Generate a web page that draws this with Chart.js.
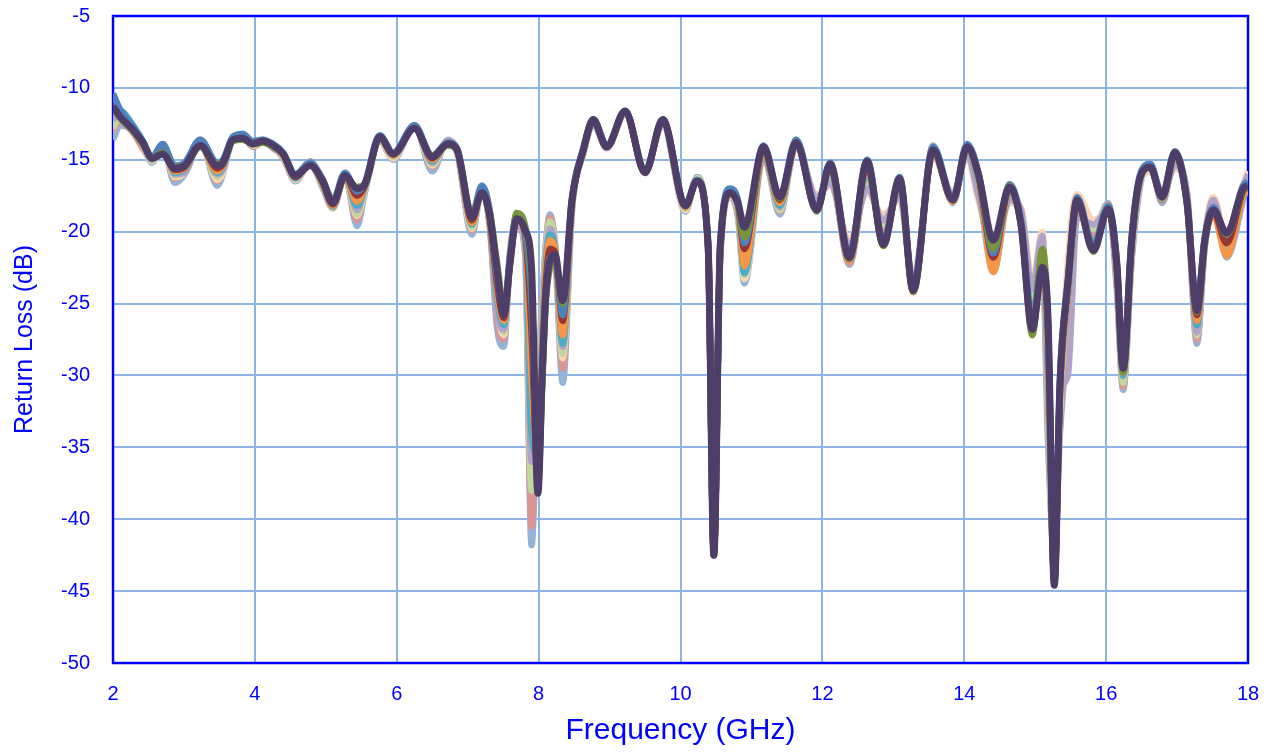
<!doctype html>
<html lang="en">
<head>
<meta charset="utf-8">
<title>Return Loss vs Frequency</title>
<script src="https://cdn.jsdelivr.net/npm/chart.js"></script>
<style>
  html, body { margin: 0; padding: 0; background: #fff; }
  #chart { display: block; }
</style>
</head>
<body>
<canvas id="chart" width="1270" height="753"></canvas>
<script>
// frequency points (GHz), shared by every trace
const freqGHz = [
  2.00, 2.10, 2.28, 2.42, 2.55, 2.70, 2.87, 3.01, 3.23, 3.47,
  3.55, 3.69, 3.83, 3.97, 4.11, 4.26, 4.40, 4.57, 4.78, 4.95,
  5.10, 5.27, 5.44, 5.55, 5.76, 5.95, 6.25, 6.50, 6.72, 6.85,
  7.06, 7.20, 7.31, 7.41, 7.51, 7.60, 7.69, 7.81, 7.90, 7.99,
  8.05, 8.10, 8.16, 8.23, 8.34, 8.47, 8.63, 8.77, 8.96, 9.22,
  9.50, 9.75, 10.07, 10.23, 10.39, 10.47, 10.56, 10.70, 10.81, 10.90,
  11.17, 11.40, 11.63, 11.92, 12.11, 12.38, 12.63, 12.86, 13.09, 13.28,
  13.56, 13.84, 14.04, 14.20, 14.41, 14.64, 14.80, 14.96, 15.10, 15.18,
  15.27, 15.35, 15.46, 15.59, 15.82, 16.03, 16.15, 16.24, 16.36, 16.48,
  16.62, 16.79, 16.97, 17.14, 17.28, 17.39, 17.51, 17.70, 17.93, 18.00
];

// return loss (dB) per trace
const traceMain = [
  -11.3, -12.0, -12.9, -13.8, -14.9, -14.6, -15.6, -15.4, -14.0, -15.4,
  -15.2, -13.6, -13.5, -13.9, -13.7, -14.0, -14.6, -16.1, -15.4, -16.4,
  -18.0, -16.1, -17.0, -16.7, -13.4, -14.6, -12.8, -14.8, -13.9, -14.3,
  -19.0, -17.3, -18.8, -22.5, -25.8, -22.0, -19.1, -19.9, -22.5, -38.2,
  -30.0, -24.5, -22.0, -21.6, -24.8, -17.8, -14.3, -12.2, -14.1, -11.6,
  -15.9, -12.2, -18.2, -16.5, -21.0, -42.5, -21.0, -17.3, -18.0, -19.7,
  -14.1, -17.6, -13.8, -18.5, -15.3, -21.8, -15.1, -20.9, -16.3, -24.1,
  -14.3, -17.8, -14.1, -16.0, -20.6, -16.9, -19.5, -26.8, -22.5, -25.9,
  -44.6, -30.5, -23.6, -17.8, -21.3, -18.4, -22.2, -29.5, -20.6, -16.2,
  -15.5, -17.6, -14.5, -18.0, -25.5, -20.6, -18.5, -20.1, -17.0, -16.8
];
const trace1 = [
  -13.6, -12.6, -13.0, -14.0, -15.2, -14.0, -16.6, -16.0, -13.6, -16.8,
  -16.0, -13.4, -13.2, -14.0, -13.6, -14.2, -14.8, -16.5, -15.2, -16.9,
  -18.4, -16.0, -19.6, -17.3, -13.6, -15.0, -12.6, -15.8, -13.6, -14.5,
  -20.2, -17.0, -19.3, -26.5, -28.0, -21.5, -19.5, -21.5, -41.8, -30.0,
  -25.0, -21.0, -18.8, -21.0, -30.5, -18.5, -14.6, -12.5, -14.0, -11.8,
  -15.6, -12.6, -18.6, -16.2, -21.5, -42.0, -21.5, -17.6, -19.0, -23.6,
  -14.6, -18.8, -13.6, -18.0, -16.0, -22.3, -16.2, -19.8, -17.0, -24.0,
  -14.0, -18.0, -14.4, -17.0, -22.8, -17.4, -18.8, -25.0, -20.8, -34.5,
  -42.0, -34.0, -27.0, -18.4, -20.0, -18.0, -24.0, -31.0, -22.0, -16.8,
  -15.2, -18.0, -15.0, -17.6, -27.8, -21.0, -18.0, -21.8, -17.8, -16.4
];
const trace2 = [
  -13.0, -12.3, -13.1, -14.2, -15.0, -14.2, -16.3, -15.8, -13.8, -16.5,
  -15.8, -13.5, -13.3, -14.1, -13.8, -14.1, -14.9, -16.4, -15.3, -16.8,
  -18.3, -16.2, -19.2, -17.1, -13.7, -14.9, -12.7, -15.5, -13.7, -14.4,
  -19.9, -16.9, -19.0, -26.0, -27.5, -21.2, -19.3, -21.2, -40.5, -31.0,
  -25.5, -21.2, -19.0, -20.8, -29.5, -18.4, -14.5, -12.4, -14.1, -11.7,
  -15.7, -12.5, -18.5, -16.3, -21.3, -42.2, -21.4, -17.5, -18.8, -23.2,
  -14.5, -18.6, -13.7, -18.1, -15.8, -22.2, -16.0, -20.0, -16.8, -24.2,
  -14.1, -17.9, -14.3, -16.8, -22.5, -17.3, -19.0, -25.5, -21.0, -33.0,
  -43.0, -33.0, -26.5, -18.3, -20.3, -18.1, -23.5, -30.8, -21.8, -16.6,
  -15.3, -17.9, -14.9, -17.7, -27.5, -21.0, -18.2, -21.5, -17.6, -16.5
];
const trace3 = [
  -12.8, -12.0, -12.8, -13.9, -15.1, -14.3, -16.1, -15.7, -13.9, -16.2,
  -15.6, -13.6, -13.4, -14.0, -13.8, -14.1, -14.8, -16.3, -15.3, -16.7,
  -18.2, -16.2, -18.8, -17.0, -13.6, -14.8, -12.7, -15.3, -13.8, -14.4,
  -19.7, -17.0, -19.2, -25.0, -27.0, -21.5, -19.0, -21.0, -38.0, -33.0,
  -26.0, -21.5, -19.3, -20.8, -28.5, -18.3, -14.5, -12.4, -14.0, -11.7,
  -15.6, -12.5, -18.4, -16.3, -21.2, -42.3, -21.6, -17.2, -18.6, -23.0,
  -14.7, -18.5, -13.9, -17.8, -16.3, -21.5, -16.6, -19.5, -17.2, -23.8,
  -14.4, -17.7, -14.5, -17.2, -22.0, -17.6, -18.6, -24.5, -20.5, -32.0,
  -43.5, -32.0, -25.5, -18.6, -19.8, -18.2, -23.0, -30.5, -21.5, -16.5,
  -15.4, -17.7, -15.2, -17.5, -27.2, -20.8, -18.0, -21.0, -17.3, -16.2
];
const trace4 = [
  -12.2, -11.8, -12.7, -13.8, -15.0, -14.0, -16.0, -15.9, -13.7, -16.0,
  -15.7, -13.5, -13.2, -13.9, -13.7, -14.2, -14.7, -16.2, -15.1, -16.6,
  -18.1, -16.0, -18.5, -16.9, -13.5, -14.7, -12.6, -15.2, -13.7, -14.3,
  -19.5, -16.8, -19.6, -25.5, -26.8, -21.8, -19.2, -20.8, -36.0, -34.0,
  -27.0, -22.0, -19.8, -21.0, -28.0, -18.2, -14.4, -12.5, -14.2, -11.8,
  -15.8, -12.4, -18.3, -16.4, -21.4, -42.0, -21.8, -17.4, -18.4, -22.6,
  -14.8, -18.3, -14.0, -17.6, -16.6, -21.0, -17.0, -19.2, -17.5, -23.5,
  -14.6, -17.5, -14.6, -17.5, -21.5, -17.8, -18.5, -24.0, -20.3, -31.0,
  -43.0, -31.5, -30.0, -19.0, -19.5, -18.5, -22.5, -30.0, -21.2, -16.4,
  -15.6, -17.5, -15.4, -17.3, -27.0, -20.6, -17.8, -20.8, -17.0, -16.0
];
const trace5 = [
  -11.8, -11.6, -12.6, -13.7, -14.9, -14.1, -15.9, -15.7, -13.9, -15.9,
  -15.5, -13.6, -13.3, -13.9, -13.8, -14.1, -14.7, -16.3, -15.2, -16.7,
  -18.3, -16.1, -18.2, -16.9, -13.5, -14.7, -12.7, -15.1, -13.8, -14.3,
  -19.5, -17.0, -19.4, -24.5, -26.5, -21.6, -19.0, -20.5, -34.0, -35.5,
  -28.0, -22.5, -20.2, -21.2, -27.8, -18.1, -14.4, -12.4, -14.1, -11.7,
  -15.8, -12.4, -18.3, -16.4, -21.2, -42.3, -21.5, -17.3, -18.3, -22.9,
  -14.5, -18.2, -13.9, -18.2, -15.7, -21.8, -15.8, -20.6, -16.7, -24.0,
  -14.5, -17.8, -14.3, -16.5, -22.5, -17.2, -19.2, -26.0, -21.5, -29.0,
  -43.8, -31.0, -24.5, -18.2, -20.8, -18.3, -22.8, -30.0, -21.0, -16.4,
  -15.5, -17.8, -14.8, -17.8, -26.5, -21.0, -18.6, -21.6, -17.6, -17.2
];
const trace6 = [
  -11.6, -11.8, -12.8, -13.8, -14.9, -14.3, -15.8, -15.6, -14.0, -15.8,
  -15.4, -13.6, -13.4, -13.9, -13.8, -14.1, -14.7, -16.2, -15.3, -16.6,
  -18.2, -16.1, -17.9, -16.8, -13.5, -14.7, -12.7, -15.0, -13.8, -14.3,
  -19.4, -17.1, -19.2, -24.0, -26.2, -21.8, -19.2, -20.4, -30.0, -36.5,
  -29.0, -23.0, -20.6, -21.3, -27.2, -18.0, -14.4, -12.3, -14.1, -11.7,
  -15.9, -12.3, -18.3, -16.4, -21.1, -42.4, -21.3, -17.4, -18.2, -22.4,
  -14.4, -18.0, -13.9, -18.4, -15.5, -22.0, -15.5, -20.8, -16.5, -24.2,
  -14.4, -17.9, -14.2, -16.3, -22.8, -17.0, -19.4, -26.5, -22.0, -28.0,
  -44.0, -31.5, -24.2, -18.0, -21.0, -18.4, -22.6, -29.8, -20.8, -16.3,
  -15.5, -17.7, -14.7, -17.9, -26.2, -20.8, -18.8, -21.7, -17.5, -17.0
];
const trace7 = [
  -11.0, -11.9, -12.9, -13.8, -14.9, -14.4, -15.7, -15.5, -14.0, -15.6,
  -15.3, -13.6, -13.5, -13.9, -13.7, -14.0, -14.6, -16.2, -15.3, -16.5,
  -18.1, -16.1, -17.5, -16.8, -13.4, -14.6, -12.7, -14.9, -13.9, -14.3,
  -19.2, -17.2, -19.0, -23.5, -26.0, -21.9, -19.1, -20.2, -27.0, -37.5,
  -29.5, -23.8, -21.2, -21.4, -26.2, -17.9, -14.3, -12.3, -14.1, -11.6,
  -15.9, -12.3, -18.2, -16.5, -21.0, -42.5, -21.2, -17.3, -18.1, -21.2,
  -14.2, -17.8, -13.8, -18.5, -15.4, -21.9, -15.3, -20.9, -16.4, -24.1,
  -14.3, -17.8, -14.1, -16.1, -21.8, -16.9, -19.5, -26.8, -22.3, -27.0,
  -44.3, -30.8, -23.8, -17.9, -21.2, -18.4, -22.4, -29.6, -20.7, -16.2,
  -15.5, -17.6, -14.6, -18.0, -25.8, -20.7, -18.6, -20.8, -17.2, -16.9
];
const trace8 = [
  -10.4, -11.5, -12.7, -13.7, -14.8, -13.9, -15.4, -15.2, -13.6, -15.2,
  -15.0, -13.4, -13.2, -13.7, -13.6, -13.9, -14.5, -16.0, -15.2, -16.3,
  -17.8, -15.9, -17.2, -16.6, -13.3, -14.5, -12.6, -14.7, -13.8, -14.2,
  -18.8, -16.8, -18.5, -23.0, -25.5, -21.5, -18.8, -20.0, -25.0, -37.0,
  -30.5, -24.6, -21.8, -21.8, -25.8, -17.7, -14.2, -12.2, -14.0, -11.6,
  -15.8, -12.2, -18.1, -16.4, -20.8, -42.2, -21.0, -17.0, -17.8, -20.8,
  -14.0, -17.5, -13.6, -18.4, -15.2, -21.7, -15.0, -20.7, -16.2, -23.9,
  -14.1, -17.6, -13.9, -15.9, -21.5, -16.7, -19.3, -26.5, -22.0, -26.5,
  -44.0, -30.2, -23.4, -17.6, -21.0, -18.2, -22.0, -29.2, -20.4, -16.0,
  -15.3, -17.4, -14.4, -17.8, -25.2, -20.4, -18.3, -20.2, -16.8, -16.5
];
const trace9 = [
  -11.4, -12.1, -13.0, -13.9, -14.9, -14.5, -15.5, -15.4, -14.1, -15.3,
  -15.2, -13.7, -13.6, -13.9, -13.8, -14.1, -14.6, -16.1, -15.4, -16.4,
  -17.9, -16.2, -16.9, -16.7, -13.5, -14.6, -12.8, -14.7, -14.0, -14.4,
  -18.8, -17.4, -18.6, -22.0, -25.2, -22.2, -18.7, -19.6, -23.5, -37.8,
  -30.8, -25.0, -22.5, -21.8, -25.0, -17.8, -14.3, -12.2, -14.1, -11.6,
  -15.9, -12.2, -18.2, -16.5, -21.0, -42.5, -21.0, -17.4, -18.1, -20.4,
  -14.2, -17.7, -13.8, -18.6, -15.3, -21.9, -15.1, -21.0, -16.3, -24.2,
  -14.3, -17.8, -14.1, -16.0, -21.2, -16.8, -19.6, -27.2, -21.2, -26.2,
  -44.5, -30.6, -23.7, -17.8, -21.4, -18.4, -22.3, -29.8, -20.6, -16.2,
  -15.5, -17.6, -14.5, -18.1, -25.6, -20.6, -18.5, -20.2, -17.1, -16.9
];
const trace10 = [
  -10.8, -11.7, -12.8, -13.9, -15.1, -14.0, -16.2, -15.9, -13.7, -16.4,
  -15.9, -13.5, -13.3, -14.0, -13.7, -14.2, -14.8, -16.4, -15.2, -16.8,
  -18.4, -16.1, -18.9, -17.1, -13.6, -14.9, -12.6, -15.4, -13.7, -14.4,
  -19.8, -16.9, -19.1, -25.2, -27.2, -21.4, -19.2, -20.9, -37.0, -33.5,
  -26.5, -21.8, -19.5, -20.9, -28.8, -18.3, -14.5, -12.5, -14.1, -11.8,
  -15.7, -12.5, -18.5, -16.3, -21.4, -42.1, -21.7, -17.5, -18.5, -23.3,
  -14.9, -18.4, -14.1, -17.4, -16.8, -20.5, -17.3, -18.8, -17.8, -23.2,
  -14.8, -17.3, -14.8, -17.8, -21.0, -18.0, -18.3, -23.5, -20.0, -30.0,
  -42.5, -32.5, -22.0, -17.4, -19.2, -18.6, -22.0, -29.0, -21.0, -16.6,
  -15.8, -17.3, -15.6, -17.2, -26.8, -20.4, -17.6, -20.5, -16.7, -15.8
];

// top trace first: Chart.js paints the first dataset last
const traces = [traceMain, trace9, trace8, trace7, trace6, trace5, trace4, trace3, trace10, trace2, trace1];
const traceColors = ['#4E3D68', '#77933C', '#4F81BD', '#953735', '#F79646', '#4BACC6',
                     '#B3A2C7', '#C3D69B', '#FCD5B5', '#D99694', '#95B3D7'];

const xTicks = [2, 4, 6, 8, 10, 12, 14, 16, 18];
const yTicks = [-5, -10, -15, -20, -25, -30, -35, -40, -45, -50];

const BLUE = '#0000FF';
const GRID = '#8DB4E2';
const FONT = "'Liberation Sans', Arial, sans-serif";

const datasets = traces.map((vals, i) => ({
  label: i === 0 ? 'Main' : 'Trace ' + i,
  data: vals.map((v, k) => ({ x: freqGHz[k], y: v })),
  borderColor: traceColors[i],
  borderWidth: i === 0 ? 7 : 6.5,
  pointRadius: 0,
  cubicInterpolationMode: 'monotone',
  fill: false
}));

// blue frame round the plot area, under the traces
const framePlugin = {
  id: 'frame',
  beforeDatasetsDraw(chart) {
    const { ctx, chartArea: a } = chart;
    ctx.save();
    ctx.strokeStyle = BLUE;
    ctx.lineWidth = 2.5;
    ctx.strokeRect(a.left, a.top, a.right - a.left, a.bottom - a.top);
    ctx.restore();
  }
};

new Chart(document.getElementById('chart').getContext('2d'), {
  type: 'line',
  data: { datasets },
  plugins: [framePlugin],
  options: {
    responsive: false,
    animation: false,
    events: [],
    layout: { padding: { top: 16, right: 22, left: 0, bottom: 0 } },
    plugins: { legend: { display: false }, tooltip: { enabled: false } },
    scales: {
      x: {
        type: 'linear',
        min: 2, max: 18,
        afterBuildTicks: s => { s.ticks = xTicks.map(v => ({ value: v })); },
        afterFit: s => { s.height = 90; s.paddingLeft = 0; s.paddingRight = 0; },
        grid: { color: GRID, lineWidth: 2, drawTicks: false },
        border: { display: false },
        ticks: { color: BLUE, font: { family: FONT, size: 20 }, padding: 19, maxRotation: 0 },
        title: {
          display: true, text: 'Frequency (GHz)', color: BLUE,
          font: { family: FONT, size: 30 }, padding: { top: 0, bottom: 4 }
        }
      },
      y: {
        type: 'linear',
        min: -50, max: -5,
        afterBuildTicks: s => { s.ticks = yTicks.map(v => ({ value: v })); },
        afterFit: s => { s.width = 113; s.paddingTop = 0; s.paddingBottom = 0; },
        grid: { color: GRID, lineWidth: 2, drawTicks: false },
        border: { display: false },
        ticks: { color: BLUE, font: { family: FONT, size: 20 }, padding: 23 },
        title: {
          display: true, text: 'Return Loss (dB)', color: BLUE,
          font: { family: FONT, size: 25 }, padding: { top: 10, bottom: 0 }
        }
      }
    }
  }
});
</script>
</body>
</html>
